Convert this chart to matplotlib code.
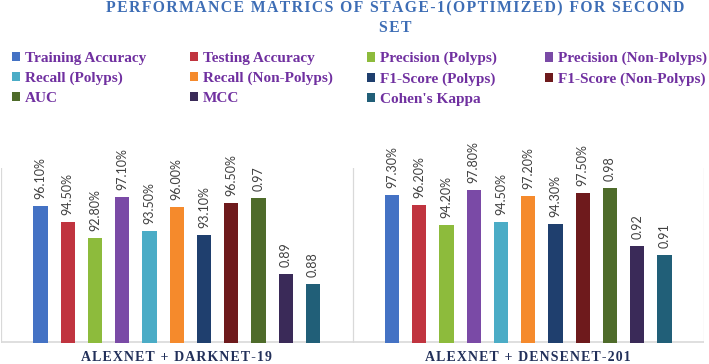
import numpy as np
import matplotlib
matplotlib.use("Agg")
import matplotlib.pyplot as plt

# data (all on 0-1 scale, as in the source sheet)
groups = ["ALEXNET + DARKNET-19", "ALEXNET + DENSENET-201"]
metrics = ["Training Accuracy", "Testing Accuracy", "Precision (Polyps)", "Precision (Non-Polyps)",
           "Recall (Polyps)", "Recall (Non-Polyps)", "F1-Score (Polyps)", "F1-Score (Non-Polyps)",
           "AUC", "MCC", "Cohen's Kappa"]
darknet19 = [0.961, 0.945, 0.928, 0.971, 0.935, 0.960, 0.931, 0.965, 0.97, 0.89, 0.88]
densenet201 = [0.973, 0.962, 0.942, 0.978, 0.945, 0.972, 0.943, 0.975, 0.98, 0.92, 0.91]
is_pct = [True] * 8 + [False] * 3

colors = ["#4472C4", "#C0343F", "#8DBB3C", "#7A4AA6", "#4BACC6", "#F58A2C",
          "#1F3F6E", "#6E1A1C", "#4E6B2A", "#3A2A58", "#215F78"]

SERIF = ["Liberation Serif", "DejaVu Serif"]
HS = "\u200a"  # hair space, used as letter spacing

def spaced(s):
    return HS.join(s)

fig = plt.figure(figsize=(7.09, 3.64), dpi=100)
ax = fig.add_axes([1 / 709, 1 - 342.5 / 364, 703 / 709, 174.5 / 364])

vals = np.array([darknet19, densenet201])
n = len(metrics)
pitch, width = 0.0775, 0.041
xg = np.arange(len(groups)) + 0.5
handles = []
for j in range(n):
    xs = xg + (j - (n - 1) / 2) * pitch
    b = ax.bar(xs, vals[:, j], width, color=colors[j], label=metrics[j], zorder=3)
    handles.append(b)
    for x, v in zip(xs, vals[:, j]):
        lab = f"{v * 100:.2f}%" if is_pct[j] else f"{v:.2f}"
        ax.annotate(lab, (x, v), xytext=(0, 5), textcoords="offset points",
                    rotation=90, ha="center", va="bottom", fontsize=9,
                    family="Lato", color="#404040")

ax.set_xlim(0, len(groups))
ax.set_ylim(0.819, 1.001)
for xv in range(len(groups) + 1):
    ax.axvline(xv, color="#d9d9d9", lw=0.9, zorder=1)
ax.axhline(0.819, color="#d9d9d9", lw=1.2, zorder=2)
for s in ax.spines.values():
    s.set_visible(False)
ax.set_yticks([])
ax.set_xticks(xg)
ax.set_xticklabels([spaced(g) for g in groups],
                   family=SERIF, fontweight="bold", fontsize=10, color="#22305A")
ax.tick_params(axis="x", length=0, pad=6)

# title
fig.text(395 / 709, 1 - 0.5 / 364,
         spaced("PERFORMANCE MATRICS OF STAGE-1(OPTIMIZED) FOR SECOND") + "\n" + spaced("SET"),
         ha="center", va="top", family=SERIF, fontweight="bold", fontsize=11.3,
         color="#3D6DB5", linespacing=1.3)

# legend: 4 equal-width columns
col_x = [12, 190, 367, 545]
for c in range(4):
    hs = handles[c::4]
    leg = fig.legend(handles=hs, labels=[h.get_label() for h in hs],
                     loc="upper left", bbox_to_anchor=(col_x[c] / 709, 1 - 52 / 364),
                     frameon=False, handlelength=0.55, handleheight=0.55, handletextpad=0.3,
                     labelspacing=0.45, borderpad=0, borderaxespad=0,
                     prop={"family": SERIF, "weight": "bold", "size": 11})
    for t in leg.get_texts():
        t.set_color("#7030A0")

fig.savefig("out.png", dpi=100)
